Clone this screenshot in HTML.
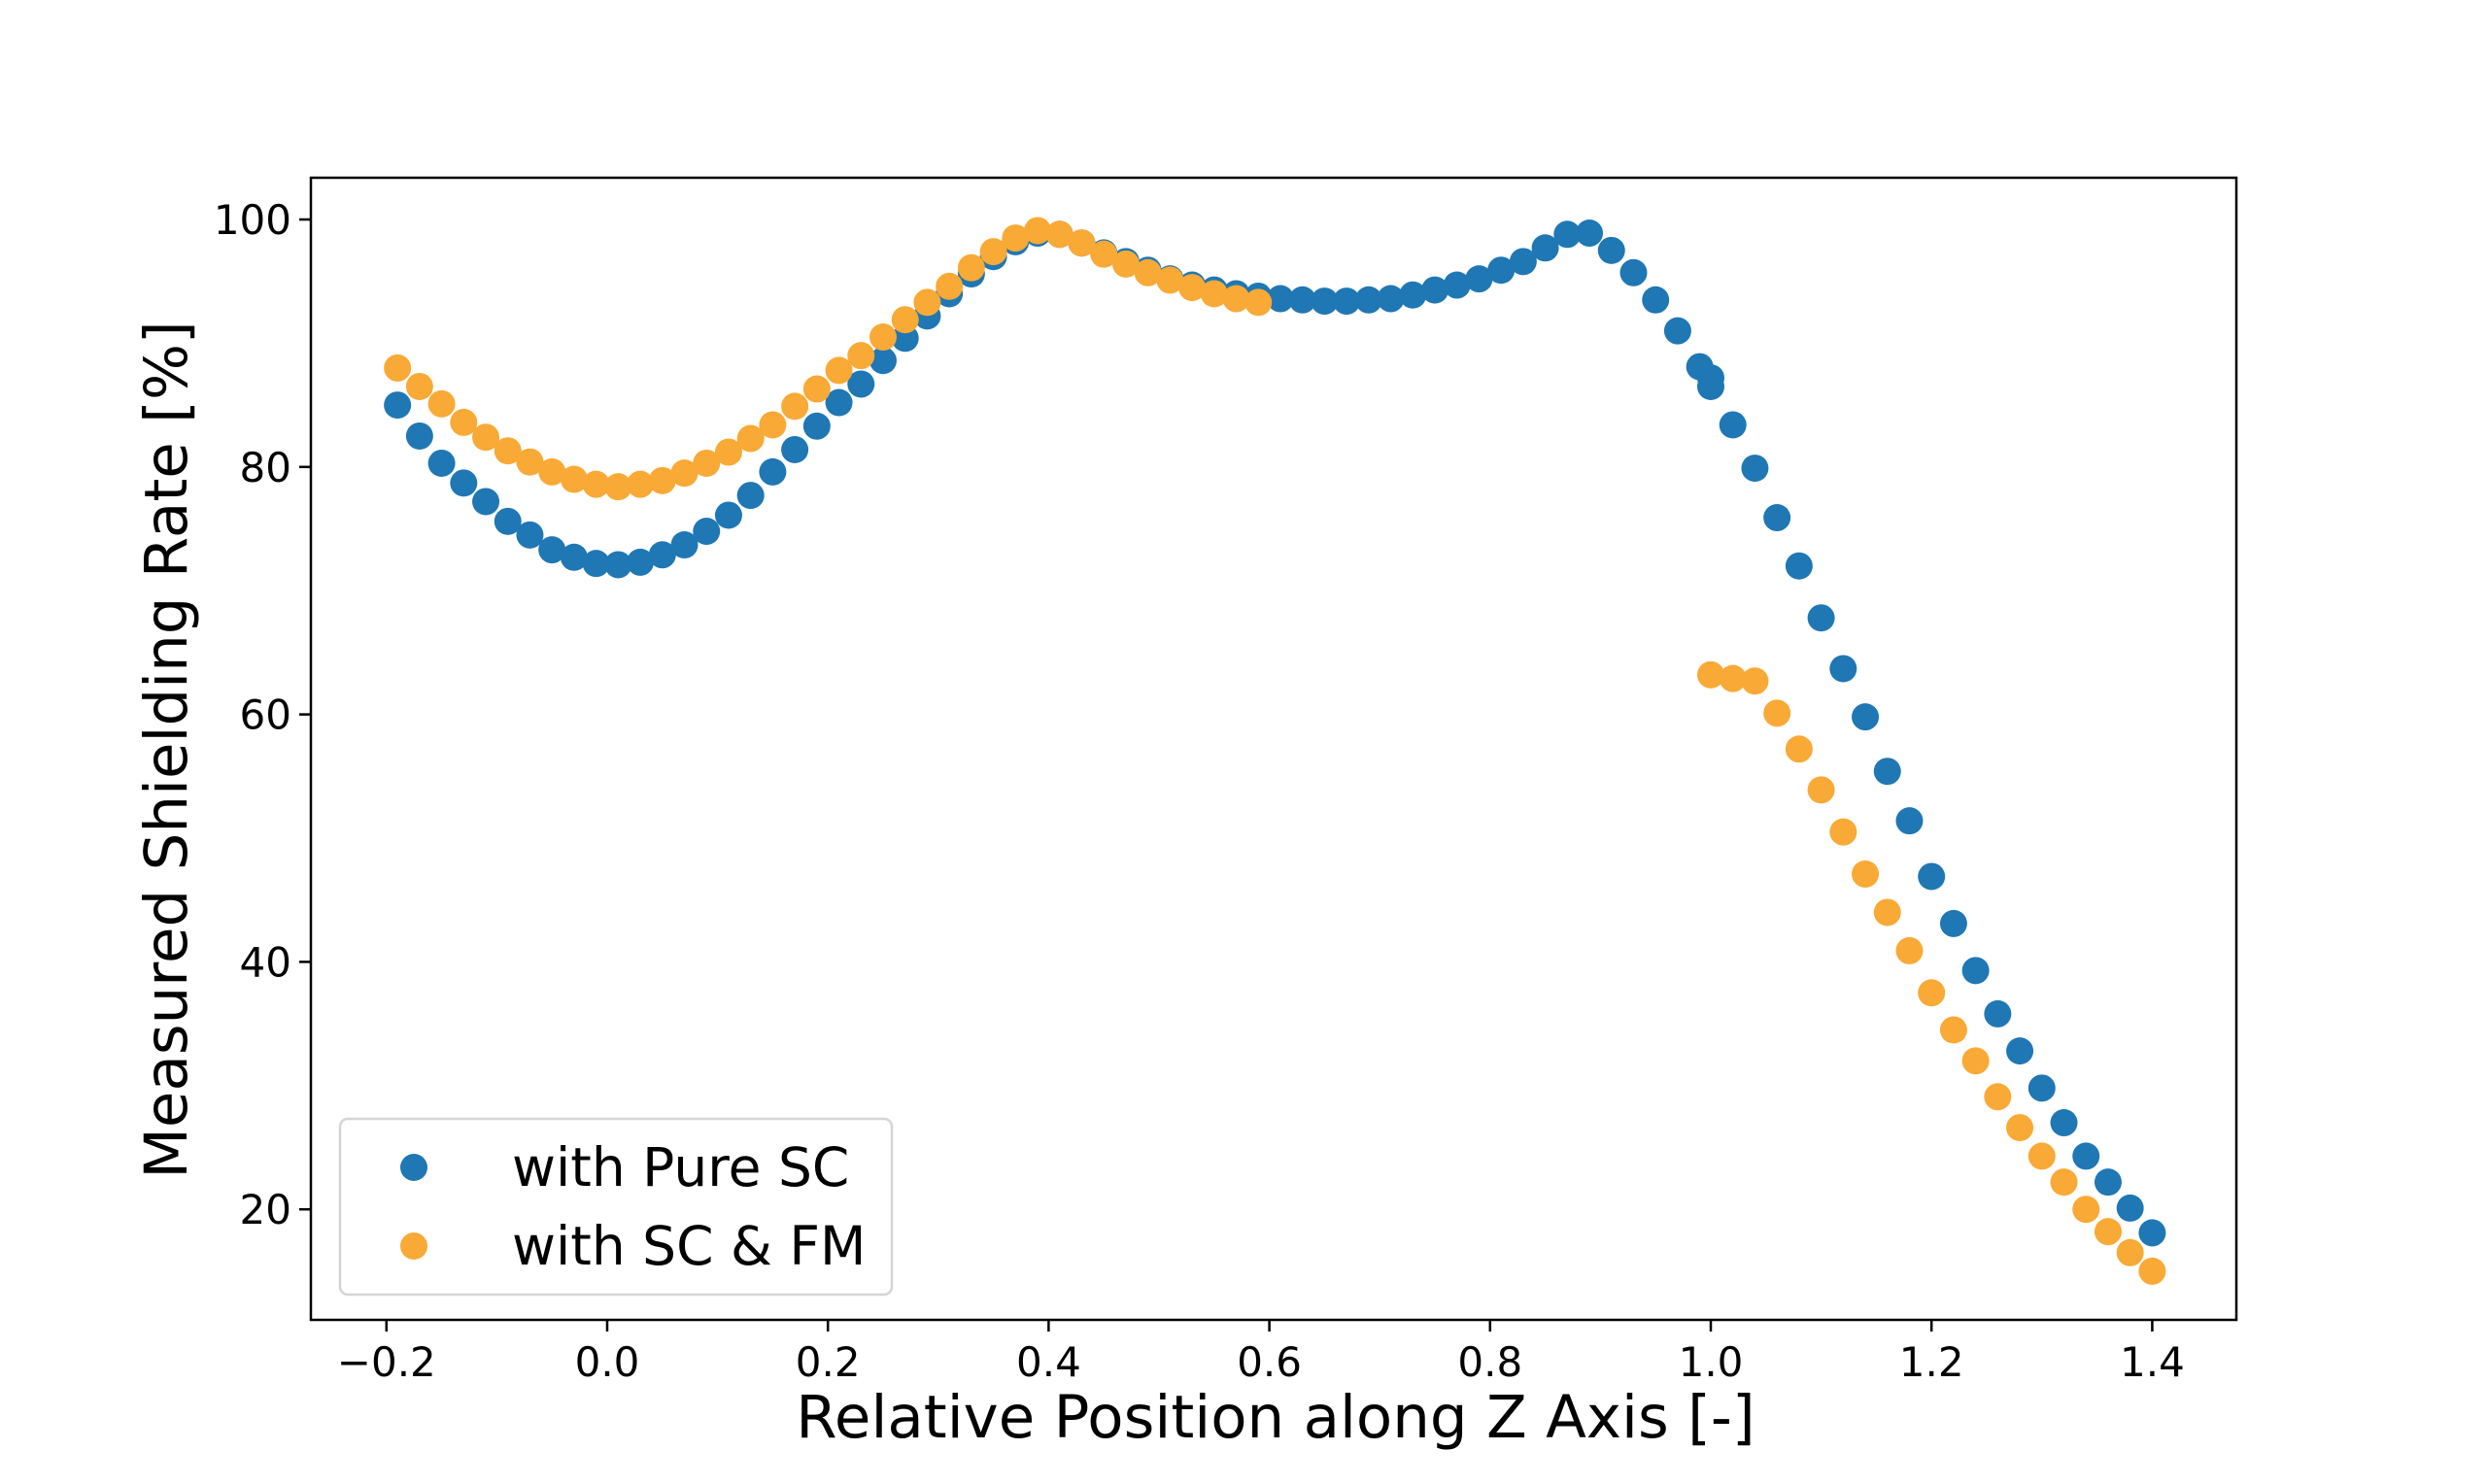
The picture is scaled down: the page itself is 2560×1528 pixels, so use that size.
<!DOCTYPE html>
<html><head><meta charset="utf-8"><style>
html,body{margin:0;padding:0;background:#fff;}
svg{display:block;font-family:"DejaVu Sans","Liberation Sans",sans-serif;}
</style></head><body>
<svg id="chart" width="2560" height="1528" viewBox="0 0 2560 1528">
<rect x="0" y="0" width="2560" height="1528" fill="#fff"/>
<g id="marks"></g>
<g id="axes"></g>
<g id="legend">
<rect x="350" y="1152" width="568" height="181" rx="8" fill="#fff" fill-opacity="0.8" stroke="#d5d5d5" stroke-width="2.5"/>
<circle cx="426" cy="1202" r="14" fill="#1f77b4"/>
<text x="527" y="1221" font-size="55">with Pure SC</text>
<circle cx="426" cy="1283" r="14" fill="#f9a935"/>
<text x="527" y="1302" font-size="55">with SC &amp; FM</text>
</g>
<text x="1313" y="1480" font-size="61" text-anchor="middle">Relative Position along Z Axis [-]</text>
<text transform="translate(192,772) rotate(-90)" font-size="61" text-anchor="middle">Measured Shielding Rate [%]</text>
</svg>
<script>
const blueX = [-0.19,-0.17,-0.15,-0.13,-0.11,-0.09,-0.07,-0.05,-0.03,-0.01,0.01,0.03,0.05,0.07,0.09,0.11,0.13,0.15,0.17,0.19,0.21,0.23,0.25,0.27,0.29,0.31,0.33,0.35,0.37,0.39,0.41,0.43,0.45,0.47,0.49,0.51,0.53,0.55,0.57,0.59,0.61,0.63,0.65,0.67,0.69,0.71,0.73,0.75,0.77,0.79,0.81,0.83,0.85,0.87,0.89,0.91,0.93,0.95,0.97,0.99,1.00,1.00,1.02,1.04,1.06,1.08,1.10,1.12,1.14,1.16,1.18,1.20,1.22,1.24,1.26,1.28,1.30,1.32,1.34,1.36,1.38,1.40];
const blueY = [85,82.5,80.3,78.7,77.2,75.6,74.5,73.3,72.7,72.2,72.1,72.3,72.9,73.7,74.8,76.1,77.7,79.6,81.4,83.3,85.2,86.7,88.6,90.4,92.2,94.0,95.6,97.0,98.2,98.9,98.8,98.1,97.3,96.6,95.9,95.2,94.7,94.3,94.0,93.8,93.6,93.5,93.4,93.4,93.5,93.6,93.9,94.3,94.7,95.2,95.9,96.6,97.7,98.8,98.9,97.5,95.7,93.5,91.0,88.1,87.2,86.5,83.4,79.9,75.9,72.0,67.8,63.7,59.8,55.4,51.4,46.9,43.1,39.3,35.8,32.8,29.8,27.0,24.3,22.2,20.1,18.1];
const orangeX = [-0.19,-0.17,-0.15,-0.13,-0.11,-0.09,-0.07,-0.05,-0.03,-0.01,0.01,0.03,0.05,0.07,0.09,0.11,0.13,0.15,0.17,0.19,0.21,0.23,0.25,0.27,0.29,0.31,0.33,0.35,0.37,0.39,0.41,0.43,0.45,0.47,0.49,0.51,0.53,0.55,0.57,0.59,1.00,1.02,1.04,1.06,1.08,1.10,1.12,1.14,1.16,1.18,1.20,1.22,1.24,1.26,1.28,1.30,1.32,1.34,1.36,1.38,1.40];
const orangeY = [88.0,86.5,85.1,83.6,82.4,81.3,80.4,79.6,79.0,78.6,78.4,78.6,78.9,79.5,80.3,81.2,82.3,83.4,84.9,86.3,87.8,89.0,90.5,91.9,93.3,94.6,96.1,97.4,98.5,99.1,98.8,98.1,97.2,96.4,95.7,95.1,94.5,94.0,93.6,93.3,63.2,62.9,62.7,60.1,57.2,53.9,50.5,47.1,44.0,40.9,37.5,34.5,32.0,29.1,26.6,24.3,22.2,20.0,18.2,16.5,15.0];
const xTicks = [-0.2,0.0,0.2,0.4,0.6,0.8,1.0,1.2,1.4];
const xTickLabels = ["\u22120.2","0.0","0.2","0.4","0.6","0.8","1.0","1.2","1.4"];
const yTicks = [20,40,60,80,100];
const yTickLabels = ["20","40","60","80","100"];

const L=320,R=2302,T=183,B=1359;
function sx(v){return 397.8+(v+0.2)*1136;}
function sy(v){return 226+(100-v)*12.74;}
const NS="http://www.w3.org/2000/svg";
const marks=document.getElementById('marks');
const axes=document.getElementById('axes');
function mk(tag,attrs,parent){const e=document.createElementNS(NS,tag);for(const k in attrs)e.setAttribute(k,attrs[k]);parent.appendChild(e);return e;}
blueX.forEach((x,i)=>{
  const c=mk('circle',{cx:sx(x),cy:sy(blueY[i]),r:14,fill:'#1f77b4'},marks);
  
  
});
orangeX.forEach((x,i)=>{
  const c=mk('circle',{cx:sx(x),cy:sy(orangeY[i]),r:14,fill:'#f9a935'},marks);
  
  
});
const frame=mk('rect',{x:L,y:T,width:R-L,height:B-T,fill:'none',stroke:'#000','stroke-width':2.5},axes);


xTicks.forEach((v,i)=>{
  const t=mk('line',{x1:sx(v),x2:sx(v),y1:B,y2:B+12,stroke:'#000','stroke-width':2.5},axes);
  
  
  const l=mk('text',{x:sx(v),y:B+58,'font-size':42,'text-anchor':'middle'},axes);
  l.textContent=xTickLabels[i];
  
  
});
yTicks.forEach((v,i)=>{
  const t=mk('line',{x1:L-12,x2:L,y1:sy(v),y2:sy(v),stroke:'#000','stroke-width':2.5},axes);
  
  
  const l=mk('text',{x:L-20,y:sy(v)+15,'font-size':42,'text-anchor':'end'},axes);
  l.textContent=yTickLabels[i];
  
  
});
</script>
</body></html>
